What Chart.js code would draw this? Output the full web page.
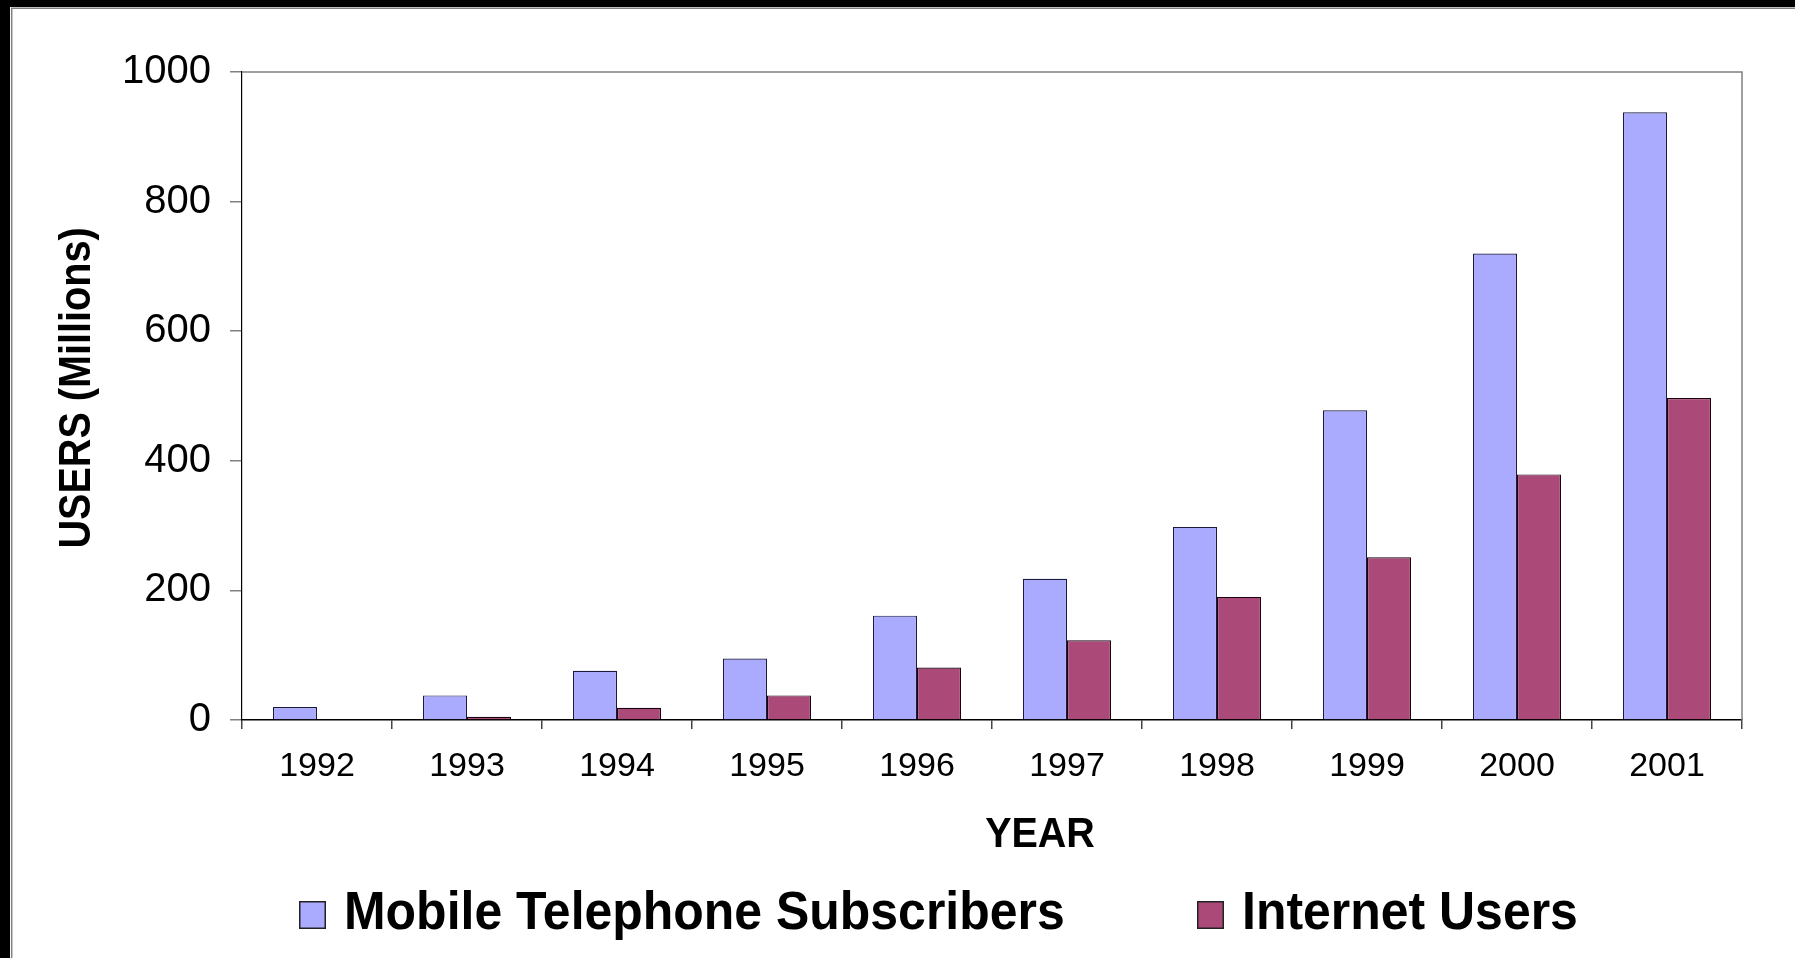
<!DOCTYPE html>
<html>
<head>
<meta charset="utf-8">
<script src="https://cdn.jsdelivr.net/npm/chart.js@4.4.0/dist/chart.umd.min.js"></script>
<style>
  html, body { margin: 0; padding: 0; background: #fff; }
  #wrap { width: 1795px; height: 958px; }
</style>
</head>
<body>
<div id="wrap"><canvas id="usersChart" width="1795" height="958"></canvas></div>
<script>
  // data (millions)
  const years = ['1992', '1993', '1994', '1995', '1996', '1997', '1998', '1999', '2000', '2001'];
  const mobileSubscribers = [20, 38, 76, 95, 161, 218, 298, 478, 720, 938];
  const internetUsers = [0, 5, 19, 38, 81, 123, 190, 251, 379, 497];
  const yMin = 0, yMax = 1000, yStep = 200;

  const seriesNames = ['Mobile Telephone Subscribers', 'Internet Users'];
  const seriesColors = ['#aaaaff', '#ab4a78'];
  const FONT = '"Liberation Sans", Arial, sans-serif';

  // frame, plot border, titles and legend
  const decor = {
    id: 'decor',
    beforeDraw(chart) {
      const ctx = chart.ctx;
      ctx.save();
      ctx.fillStyle = '#fff';
      ctx.fillRect(0, 0, chart.width, chart.height);
      ctx.fillStyle = '#000';
      ctx.fillRect(0, 0, chart.width, 7);
      ctx.fillRect(0, 0, 10, chart.height);
      ctx.strokeStyle = '#808080';
      ctx.lineWidth = 1.5;
      ctx.beginPath();
      ctx.moveTo(11.7, chart.height);
      ctx.lineTo(11.7, 8.3);
      ctx.lineTo(chart.width, 8.3);
      ctx.stroke();
      ctx.restore();
    },
    afterDraw(chart) {
      const ctx = chart.ctx;
      const a = chart.chartArea;
      ctx.save();
      // top and right border of plot area
      ctx.strokeStyle = '#808080';
      ctx.lineWidth = 1.5;
      ctx.beginPath();
      ctx.moveTo(a.left, a.top);
      ctx.lineTo(a.right, a.top);
      ctx.lineTo(a.right, a.bottom);
      ctx.stroke();

      ctx.fillStyle = '#000';
      // y title
      ctx.save();
      ctx.translate(90, 388);
      ctx.rotate(-Math.PI / 2);
      ctx.scale(0.9, 1);
      ctx.font = 'bold 44px ' + FONT;
      ctx.textAlign = 'center';
      ctx.textBaseline = 'alphabetic';
      ctx.fillText('USERS (Millions)', 0, 0);
      ctx.restore();

      // x title
      ctx.save();
      ctx.translate(1040, 847);
      ctx.scale(0.94, 1);
      ctx.font = 'bold 42px ' + FONT;
      ctx.textAlign = 'center';
      ctx.textBaseline = 'alphabetic';
      ctx.fillText('YEAR', 0, 0);
      ctx.restore();

      // legend
      const items = [
        { box: 299, text: 344 },
        { box: 1197, text: 1242 }
      ];
      chart.data.datasets.forEach((ds, i) => {
        const it = items[i];
        ctx.fillStyle = ds.backgroundColor;
        ctx.fillRect(it.box, 901, 27, 28);
        ctx.strokeStyle = '#222';
        ctx.lineWidth = 1.5;
        ctx.strokeRect(it.box + 0.75, 901.75, 25.5, 26.5);
        ctx.save();
        ctx.translate(it.text, 929);
        ctx.scale(0.925, 1);
        ctx.fillStyle = '#000';
        ctx.font = 'bold 54px ' + FONT;
        ctx.textAlign = 'left';
        ctx.textBaseline = 'alphabetic';
        ctx.fillText(ds.label, 0, 0);
        ctx.restore();
      });
      ctx.restore();
    }
  };

  const ctx = document.getElementById('usersChart').getContext('2d');
  const usersChart = new Chart(ctx, {
    type: 'bar',
    data: {
      labels: years,
      datasets: [
        {
          label: seriesNames[0],
          data: mobileSubscribers,
          backgroundColor: seriesColors[0],
          borderColor: '#1a1a40',
          borderWidth: 1.2
        },
        {
          label: seriesNames[1],
          data: internetUsers,
          backgroundColor: seriesColors[1],
          borderColor: '#1a0010',
          borderWidth: 1.2
        }
      ]
    },
    options: {
      responsive: false,
      animation: false,
      devicePixelRatio: 1,
      layout: { padding: { left: 0, right: 53, top: 72, bottom: 0 } },
      datasets: {
        bar: { categoryPercentage: 0.587, barPercentage: 1 }
      },
      plugins: {
        legend: { display: false },
        tooltip: { enabled: false }
      },
      scales: {
        x: {
          afterFit(scale) { scale.height = 238; },
          grid: {
            offset: true,
            drawOnChartArea: false,
            drawTicks: true,
            tickLength: 9,
            color: '#444',
            lineWidth: 1.5
          },
          border: { color: '#000', width: 1.5 },
          ticks: {
            color: '#000',
            padding: 17,
            font: { family: FONT, size: 34 }
          }
        },
        y: {
          min: yMin,
          max: yMax,
          afterFit(scale) { scale.width = 242; },
          grid: {
            drawOnChartArea: false,
            drawTicks: true,
            tickLength: 12,
            color: '#808080',
            lineWidth: 1.5
          },
          border: { color: '#000', width: 1.2 },
          ticks: {
            stepSize: yStep,
            color: '#000',
            padding: 19,
            font: { family: FONT, size: 40 },
            callback: (v) => String(v)
          }
        }
      }
    },
    plugins: [decor]
  });
</script>
</body>
</html>
